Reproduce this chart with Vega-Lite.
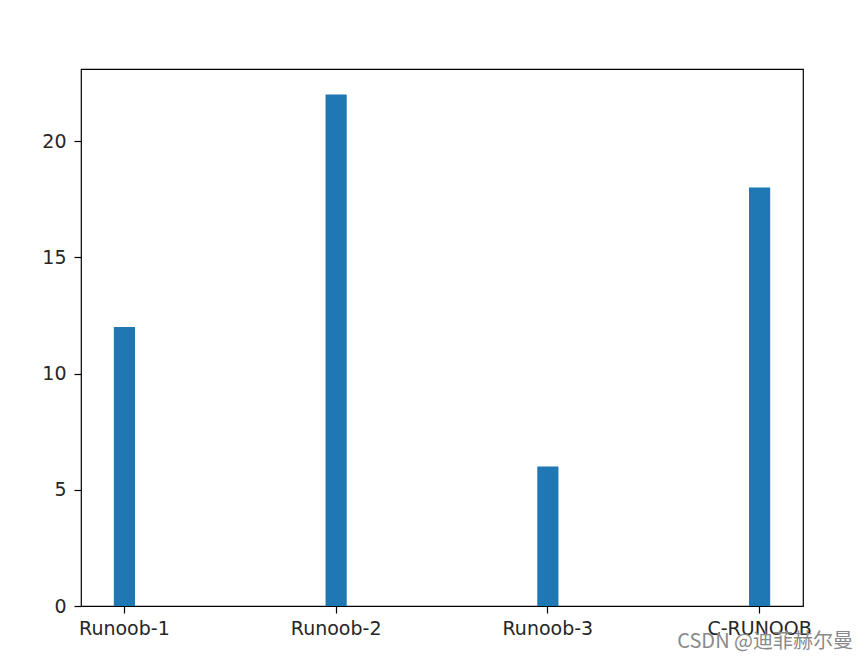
{
  "$schema": "https://vega.github.io/schema/vega-lite/v6.json",
  "width": 722,
  "height": 537,
  "autosize": {"type": "none"},
  "padding": {"left": 81, "top": 69, "right": 63, "bottom": 57},
  "background": "white",
  "data": {"values": [
    {"name": "Runoob-1", "value": 12},
    {"name": "Runoob-2", "value": 22},
    {"name": "Runoob-3", "value": 6},
    {"name": "C-RUNOOB", "value": 18}
  ]},
  "title": {
    "text": "CSDN @迪菲赫尔曼",
    "orient": "bottom",
    "anchor": "end",
    "frame": "group",
    "offset": -6,
    "dx": 50,
    "fontSize": 20,
    "fontWeight": "normal",
    "font": "Noto Sans CJK SC",
    "color": "#8a8a8a"
  },
  "mark": {"type": "bar", "color": "#1f77b4"},
  "encoding": {
    "x": {
      "field": "name",
      "type": "nominal",
      "sort": null,
      "scale": {"paddingInner": 0.9, "paddingOuter": 0.155},
      "axis": {
        "title": null,
        "labelAngle": 0,
        "labelFont": "DejaVu Sans",
        "labelFontSize": 19,
        "labelColor": "#262626",
        "labelPadding": 6,
        "tickSize": 7,
        "tickWidth": 1.2,
        "tickColor": "#000",
        "domain": false,
        "grid": false
      }
    },
    "y": {
      "field": "value",
      "type": "quantitative",
      "scale": {"domain": [0, 23.1], "nice": false},
      "axis": {
        "title": null,
        "values": [0, 5, 10, 15, 20],
        "labelFont": "DejaVu Sans",
        "labelFontSize": 19,
        "labelColor": "#262626",
        "labelPadding": 8,
        "tickSize": 7,
        "tickWidth": 1.2,
        "tickColor": "#000",
        "domain": false,
        "grid": false
      }
    }
  },
  "config": {
    "view": {"stroke": "#000", "strokeWidth": 1.2}
  }
}
